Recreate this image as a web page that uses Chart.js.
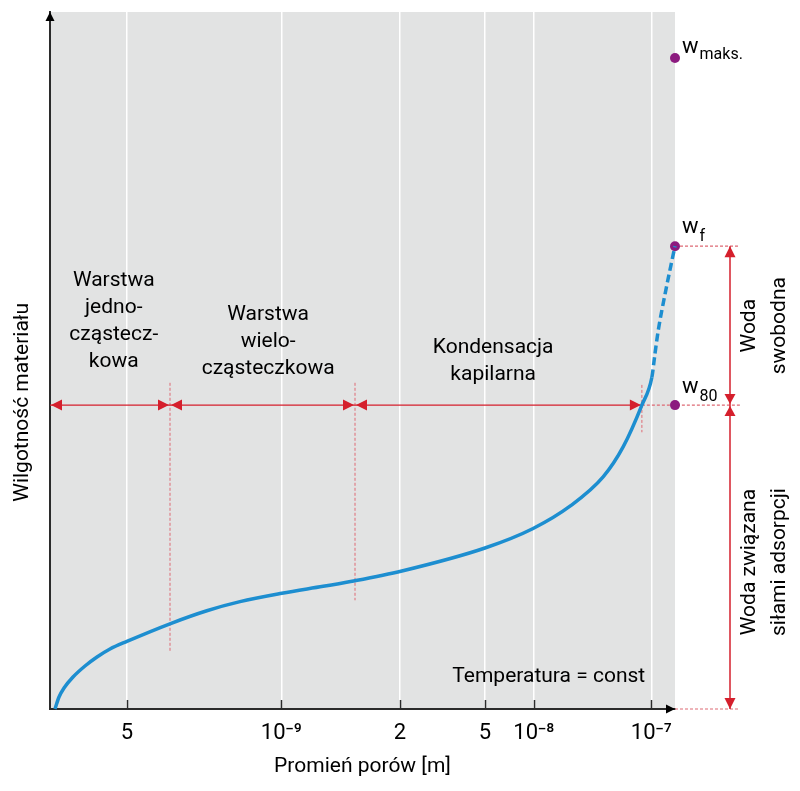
<!DOCTYPE html>
<html><head><meta charset="utf-8">
<script src="https://cdn.jsdelivr.net/npm/chart.js@4/dist/chart.umd.min.js"></script>
<style>html,body{margin:0;padding:0;background:#fff}</style>
</head><body>
<canvas id="c" width="800" height="791"></canvas>
<script>
// ---- data (schematic axis units: x 0..100, y 0..100) ----
const xTickValues = [12.3, 37.0, 56.0, 69.6, 77.4, 96.2];
const xTickLabels = ['5', '10⁻⁹', '2', '5', '10⁻⁸', '10⁻⁷'];
const curveSolidX = [0.8, 1.44, 2.24, 3.68, 5.6, 7.52, 9.6, 12.3, 19.4, 25.1, 30.4, 37.1, 43.7, 48.8, 56.3, 69.6, 77.3, 83.2, 88.5, 91.7, 94.7, 96.3];
const curveSolidY = [0, 1.72, 3.01, 4.59, 6.17, 7.46, 8.61, 9.7, 12.3, 14.1, 15.4, 16.6, 17.6, 18.4, 19.8, 23.1, 25.9, 29.1, 33.3, 37.6, 43.6, 47.6];
const curveDashedX = [96.8, 97.3, 98.4, 99.5, 100];
const curveDashedY = [51.0, 54.2, 59.5, 64.3, 66.4];
const levelSubs = ['maks.', 'f', '80'];
const levelValues = [93.4, 66.4, 43.6];
const levelX = 100;
const regionBounds = [19.2, 48.8, 94.7];
const regionNames = [['Warstwa', 'jedno-', 'cząstecz-', 'kowa'], ['Warstwa', 'wielo-', 'cząsteczkowa'], ['Kondensacja', 'kapilarna']];
const rightNames = [['Woda', 'swobodna'], ['Woda związana', 'siłami adsorpcji']];
const xTitle = 'Promień porów [m]';
const yTitle = 'Wilgotność materiału';
const noteText = 'Temperatura = const';

// ---- layout / style ----
const RED = '#d51f2c', RED_LIGHT = '#de6a74', BLUE = '#1d8ed0', PURPLE = '#8c1b7f', GRAY = '#e2e3e3', AXIS = '#2b2b2b', TEXT = '#000';
const FONT = 'Roboto, "Liberation Sans", "DejaVu Sans", sans-serif';
const regionLabelPos = [[10.2, 61.4], [34.9, 56.5], [70.9, 51.9]];
const regionDashEnds = [[46.8, 8.2], [46.8, 15.6], [46.5, 39.7]];
const LINE_H = 27;

function arrow(ctx, x, y, dir, len, half, color) {
  ctx.save(); ctx.fillStyle = color; ctx.beginPath();
  if (dir === 'left') { ctx.moveTo(x, y); ctx.lineTo(x + len, y - half); ctx.lineTo(x + len, y + half); }
  else if (dir === 'right') { ctx.moveTo(x, y); ctx.lineTo(x - len, y - half); ctx.lineTo(x - len, y + half); }
  else if (dir === 'up') { ctx.moveTo(x, y); ctx.lineTo(x - half, y + len); ctx.lineTo(x + half, y + len); }
  else { ctx.moveTo(x, y); ctx.lineTo(x - half, y - len); ctx.lineTo(x + half, y - len); }
  ctx.closePath(); ctx.fill(); ctx.restore();
}
function line(ctx, x1, y1, x2, y2, color, w, dash) {
  ctx.save(); ctx.strokeStyle = color; ctx.lineWidth = w; ctx.setLineDash(dash || []);
  ctx.beginPath(); ctx.moveTo(x1, y1); ctx.lineTo(x2, y2); ctx.stroke(); ctx.restore();
}

const decor = {
  id: 'decor',
  beforeDraw(chart) {
    const { ctx, chartArea: a } = chart;
    ctx.save(); ctx.fillStyle = GRAY; ctx.fillRect(a.left, a.top, a.right - a.left, a.bottom - a.top); ctx.restore();
  },
  beforeDatasetsDraw(chart) {
    const { ctx, chartArea: a, scales: { x, y } } = chart;
    xTickValues.forEach(v => { const px = Math.round(x.getPixelForValue(v)) + 0.5; line(ctx, px, a.bottom - 9, px, a.bottom, AXIS, 1.5); });
    const y80 = y.getPixelForValue(levelValues[2]);
    const yf = y.getPixelForValue(levelValues[1]);
    const y0 = y.getPixelForValue(0);
    const bx = regionBounds.map(v => x.getPixelForValue(v));
    const ext = a.right + 65;
    regionBounds.forEach((v, i) => {
      line(ctx, bx[i], y.getPixelForValue(regionDashEnds[i][0]), bx[i], y.getPixelForValue(regionDashEnds[i][1]), RED_LIGHT, 1, [3, 2]);
    });
    line(ctx, bx[2], y80, ext, y80, RED_LIGHT, 1.2, [3, 2]);
    line(ctx, a.right, yf, ext, yf, RED_LIGHT, 1.2, [3, 2]);
    line(ctx, a.right, y0, ext, y0, RED_LIGHT, 1.2, [3, 2]);
    line(ctx, a.left, y80, bx[2], y80, RED, 1.3);
    arrow(ctx, a.left + 1, y80, 'left', 11, 5.5, RED);
    arrow(ctx, bx[0] - 1, y80, 'right', 11, 5.5, RED);
    arrow(ctx, bx[0] + 1, y80, 'left', 11, 5.5, RED);
    arrow(ctx, bx[1] - 1, y80, 'right', 11, 5.5, RED);
    arrow(ctx, bx[1] + 1, y80, 'left', 11, 5.5, RED);
    arrow(ctx, bx[2] - 1, y80, 'right', 11, 5.5, RED);
    const rx = a.right + 55;
    line(ctx, rx, yf, rx, y0, RED, 1.5);
    arrow(ctx, rx, yf, 'up', 11, 5.5, RED);
    arrow(ctx, rx, y80 - 1, 'down', 10, 5.5, RED);
    arrow(ctx, rx, y80 + 1, 'up', 10, 5.5, RED);
    arrow(ctx, rx, y0, 'down', 11, 5.5, RED);
  },
  afterDatasetsDraw(chart) {
    const { ctx, chartArea: a, scales: { x, y } } = chart;
    arrow(ctx, a.left, a.top, 'up', 9, 4.5, '#000');
    arrow(ctx, a.right, a.bottom, 'right', 9, 4.5, '#000');
    ctx.save();
    ctx.fillStyle = TEXT;
    ctx.textAlign = 'center'; ctx.textBaseline = 'middle';
    ctx.font = '21px ' + FONT;
    regionNames.forEach((lines, i) => {
      const cx = x.getPixelForValue(regionLabelPos[i][0]);
      const cy = y.getPixelForValue(regionLabelPos[i][1]);
      lines.forEach((t, j) => ctx.fillText(t, cx, cy + j * LINE_H));
    });
    ctx.fillText(noteText, x.getPixelForValue(79.8), y.getPixelForValue(4.6));
    const groups = [[levelValues[1], levelValues[2]], [levelValues[2], 0]];
    rightNames.forEach((lines, i) => {
      const cy = (y.getPixelForValue(groups[i][0]) + y.getPixelForValue(groups[i][1])) / 2 + (i === 0 ? 0 : 5);
      lines.forEach((t, j) => {
        ctx.save(); ctx.translate(a.right + 75 + j * 30, cy); ctx.rotate(-Math.PI / 2);
        ctx.fillText(t, 0, 0); ctx.restore();
      });
    });
    ctx.save(); ctx.translate(23, y.getPixelForValue(44)); ctx.rotate(-Math.PI / 2);
    ctx.fillText(yTitle, 0, 0); ctx.restore();
    ctx.textAlign = 'left'; ctx.textBaseline = 'alphabetic';
    const offs = [[-5, 3], [-13, 5], [-12, 5]];
    levelValues.forEach((v, i) => {
      const px = x.getPixelForValue(levelX) + 7;
      const py = y.getPixelForValue(v) + offs[i][0];
      ctx.font = '22px ' + FONT; ctx.fillText('w', px, py);
      const w = ctx.measureText('w').width;
      ctx.font = '16px ' + FONT; ctx.fillText(levelSubs[i], px + w + 1, py + offs[i][1] + 3);
    });
    ctx.restore();
  }
};

const curveX = curveSolidX.concat(curveDashedX);
const curveY = curveSolidY.concat(curveDashedY);
const solidCount = curveSolidX.length;

new Chart(document.getElementById('c'), {
  type: 'line',
  data: {
    datasets: [
      { data: curveX.map((v, i) => ({ x: v, y: curveY[i] })), borderColor: BLUE, borderWidth: 3.5, pointRadius: 0, cubicInterpolationMode: 'monotone', fill: false, clip: false,
        segment: { borderDash: c => (c.p0DataIndex >= solidCount - 1 ? [8, 4] : undefined) } },
      { data: levelValues.map(v => ({ x: levelX, y: v })), showLine: false, pointRadius: 5, pointBackgroundColor: PURPLE, pointBorderColor: PURPLE, pointBorderWidth: 0, clip: false }
    ]
  },
  options: {
    responsive: false,
    animation: false,
    devicePixelRatio: 1,
    layout: { padding: { top: 12, right: 125, left: 0, bottom: 0 } },
    plugins: { legend: { display: false }, tooltip: { enabled: false } },
    scales: {
      x: {
        type: 'linear', min: 0, max: 100,
        afterBuildTicks: s => { s.ticks = xTickValues.map(v => ({ value: v })); },
        afterFit: s => { s.height = 82; },
        ticks: { autoSkip: false, maxRotation: 0, padding: 11, color: TEXT, font: { family: FONT, size: 22 }, callback: (v, i) => xTickLabels[i] },
        grid: { color: '#ffffff', lineWidth: 1.5, drawTicks: false },
        border: { display: true, color: AXIS, width: 2 },
        title: { display: true, text: xTitle, color: TEXT, font: { family: FONT, size: 21 }, padding: { top: 0, bottom: 12 } }
      },
      y: {
        type: 'linear', min: 0, max: 100,
        afterFit: s => { s.width = 50; },
        ticks: { display: false },
        grid: { display: false, drawTicks: false },
        border: { display: true, color: AXIS, width: 2 }
      }
    }
  },
  plugins: [decor]
});
</script>
</body></html>
